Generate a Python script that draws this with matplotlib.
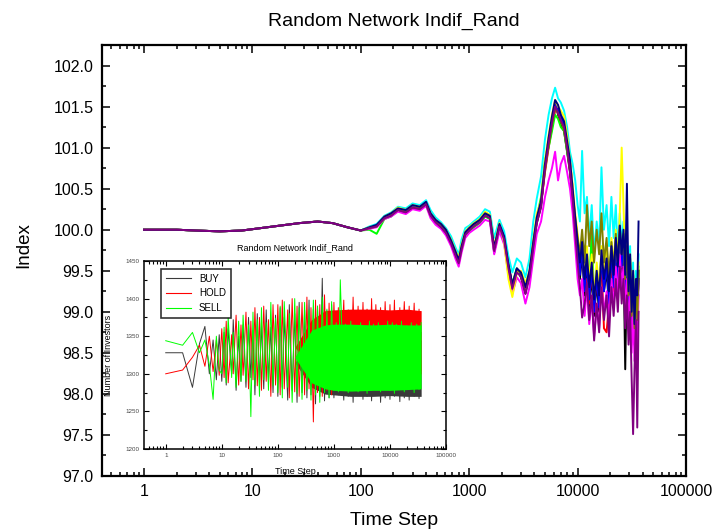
import matplotlib
matplotlib.use("Agg")
import matplotlib.pyplot as plt
from matplotlib.ticker import MultipleLocator, LogLocator, NullFormatter, FormatStrFormatter

plt.rcParams['font.family'] = ['Liberation Sans', 'DejaVu Sans']

# ---------------- main panel: index paths of ten simulation runs ----------------
steps_early = [1, 2, 3, 5, 8, 12, 18, 27, 40, 55, 75, 100]
steps_late = [120, 140, 165, 190, 220, 260, 300, 350, 400, 440, 490, 550, 610, 680, 750, 800, 850, 920, 1000,
              1100, 1250, 1400, 1550, 1700, 1900, 2100, 2300, 2500, 2750, 3000, 3300, 3600, 3900, 4200, 4600,
              5000, 5400, 5800, 6200, 6600, 7000, 7500, 8000, 8500, 9000, 9500, 10000,
              10500, 11000, 11600, 12200, 12800, 13500, 14200, 15000, 15800, 16600, 17500, 18500, 19500,
              20500, 21500, 22500, 23500, 24500, 25500, 26500, 27500, 28500, 29500, 30500, 31500, 32500,
              33500, 34500, 35500, 36500]

# all runs share the same start
index_early = [100.00, 100.00, 99.99, 99.98, 99.99, 100.02, 100.05, 100.08, 100.10, 100.08, 100.03, 99.99]

index_black = [100.03, 100.06, 100.14, 100.19, 100.24, 100.23, 100.27, 100.27, 100.31, 100.17, 100.09, 100.06, 99.97, 99.84, 99.68, 99.60, 99.77, 99.96, 100.01,
               100.04, 100.12, 100.17, 100.14, 99.72, 100.06, 99.88, 99.52, 99.28, 99.52, 99.42, 99.22, 99.47, 99.82, 100.08, 100.28, 100.80, 101.10, 101.35, 101.55, 101.40, 101.30, 101.20, 100.95, 100.70, 100.35, 100.00, 99.70,
               99.40, 99.70, 99.20, 99.55, 99.05, 99.45, 98.95, 99.35, 99.00, 99.60, 99.25, 99.50, 99.05, 99.65, 99.30, 99.75, 99.35, 99.85, 99.40, 99.70, 98.30, 99.60, 98.90, 99.40, 98.70, 99.20, 98.60, 99.10, 98.90, 99.50]
index_red = [100.02, 100.04, 100.16, 100.17, 100.26, 100.21, 100.29, 100.25, 100.33, 100.20, 100.12, 100.04, 99.99, 99.87, 99.72, 99.64, 99.80, 99.94, 99.99,
             100.07, 100.09, 100.20, 100.16, 99.78, 100.03, 99.93, 99.58, 99.33, 99.48, 99.47, 99.28, 99.42, 99.78, 100.12, 100.32, 100.70, 101.00, 101.25, 101.45, 101.50, 101.38, 101.25, 101.00, 100.85, 100.50, 100.05, 99.75,
             99.55, 99.80, 99.35, 99.40, 99.10, 99.55, 99.00, 99.45, 99.20, 99.60, 98.80, 98.75, 99.10, 99.65, 99.25, 99.75, 99.45, 99.90, 99.55, 99.80, 99.35, 99.65, 99.05, 99.50, 98.90, 99.30, 98.75, 99.20, 98.80, 99.40]
index_green = [100.00, 99.95, 100.13, 100.16, 100.23, 100.20, 100.26, 100.24, 100.30, 100.16, 100.08, 100.03, 99.96, 99.83, 99.67, 99.58, 99.76, 99.93, 99.98,
               100.03, 100.08, 100.16, 100.13, 99.73, 100.02, 99.87, 99.53, 99.35, 99.53, 99.44, 99.27, 99.48, 99.85, 100.15, 100.40, 100.85, 101.00, 101.20, 101.40, 101.35, 101.25, 101.20, 100.95, 100.75, 100.40, 100.10, 99.85,
               99.60, 99.85, 99.40, 99.70, 99.30, 100.00, 99.15, 99.50, 99.20, 99.75, 99.40, 99.60, 99.20, 99.75, 99.40, 99.85, 99.50, 100.00, 99.65, 99.90, 99.35, 99.75, 99.15, 99.60, 98.95, 99.45, 98.80, 99.35, 98.95, 99.55]
index_blue = [100.03, 100.05, 100.15, 100.19, 100.25, 100.23, 100.28, 100.27, 100.32, 100.19, 100.11, 100.06, 99.98, 99.86, 99.71, 99.62, 99.79, 99.96, 100.01,
              100.06, 100.11, 100.19, 100.16, 99.76, 100.06, 99.91, 99.56, 99.31, 99.51, 99.46, 99.26, 99.46, 99.81, 100.11, 100.31, 100.78, 101.08, 101.32, 101.52, 101.46, 101.36, 101.28, 101.02, 100.78, 100.42, 100.08, 99.78,
              99.45, 99.80, 99.25, 99.65, 99.15, 99.55, 99.00, 99.45, 99.05, 99.70, 99.25, 99.60, 99.10, 99.75, 99.30, 99.85, 99.40, 100.00, 99.55, 99.90, 99.25, 99.75, 99.05, 99.60, 98.80, 99.40, 98.65, 99.30, 98.80, 99.40]
index_cyan = [100.04, 100.07, 100.17, 100.21, 100.28, 100.26, 100.32, 100.30, 100.36, 100.24, 100.15, 100.09, 100.02, 99.92, 99.78, 99.70, 99.88, 100.02, 100.05,
              100.10, 100.16, 100.25, 100.22, 99.90, 100.12, 99.98, 99.68, 99.48, 99.65, 99.60, 99.42, 99.65, 100.10, 100.38, 100.65, 101.10, 101.40, 101.60, 101.73, 101.60, 101.55, 101.45, 101.25, 100.95, 100.80, 100.60, 100.30,
              100.10, 100.96, 100.20, 100.40, 99.90, 100.30, 99.70, 100.10, 99.80, 100.76, 100.00, 100.30, 99.80, 100.40, 99.90, 100.30, 99.70, 100.20, 99.80, 100.10, 99.50, 99.90, 99.30, 99.80, 99.00, 99.60, 98.90, 99.50, 99.10, 99.70]
index_magenta = [100.01, 100.03, 100.13, 100.16, 100.22, 100.19, 100.25, 100.23, 100.29, 100.14, 100.06, 100.01, 99.93, 99.80, 99.64, 99.55, 99.72, 99.90, 99.96,
                 100.00, 100.05, 100.12, 100.10, 99.70, 99.98, 99.82, 99.45, 99.22, 99.42, 99.35, 99.10, 99.30, 99.65, 99.95, 100.10, 100.40, 100.60, 100.75, 100.95, 100.60, 100.80, 100.90, 100.70, 100.50, 100.20, 99.80, 99.40,
                 99.20, 99.40, 98.95, 99.30, 98.85, 99.15, 98.70, 99.10, 98.80, 99.30, 99.00, 99.25, 98.90, 99.40, 99.05, 99.55, 99.20, 99.70, 99.30, 99.55, 99.00, 99.40, 98.80, 99.20, 98.50, 99.00, 98.40, 99.00, 98.60, 99.20]
index_yellow = [100.03, 100.05, 100.16, 100.20, 100.27, 100.24, 100.30, 100.28, 100.33, 100.20, 100.12, 100.07, 100.00, 99.88, 99.74, 99.66, 99.82, 99.98, 100.03,
                100.08, 100.13, 100.22, 100.18, 99.80, 100.08, 99.85, 99.40, 99.18, 99.48, 99.50, 99.35, 99.50, 99.88, 100.20, 100.35, 100.85, 101.15, 101.40, 101.58, 101.50, 101.45, 101.38, 101.15, 100.85, 100.55, 100.20, 99.95,
                99.70, 99.90, 99.50, 99.80, 99.40, 99.70, 99.20, 99.60, 99.30, 99.80, 99.50, 99.75, 99.35, 99.90, 99.55, 100.00, 99.60, 100.20, 101.00, 100.30, 99.60, 99.90, 99.30, 99.70, 99.00, 99.50, 98.90, 99.40, 99.00, 99.60]
index_olive = [100.02, 100.04, 100.14, 100.18, 100.24, 100.22, 100.27, 100.26, 100.31, 100.18, 100.10, 100.04, 99.97, 99.85, 99.70, 99.61, 99.77, 99.95, 100.00,
               100.05, 100.10, 100.18, 100.15, 99.77, 100.05, 99.90, 99.57, 99.32, 99.52, 99.47, 99.28, 99.47, 99.82, 100.12, 100.32, 100.72, 101.02, 101.28, 101.48, 101.42, 101.32, 101.22, 100.98, 100.72, 100.45, 100.15, 99.90,
               99.70, 100.00, 99.60, 100.30, 99.80, 100.10, 99.60, 100.00, 99.70, 100.20, 99.60, 99.90, 99.40, 99.85, 99.50, 99.95, 99.60, 100.05, 99.70, 99.95, 99.40, 99.80, 99.20, 99.65, 98.95, 99.45, 98.80, 99.30, 98.90, 99.50]
index_navy = [100.03, 100.06, 100.16, 100.20, 100.26, 100.24, 100.30, 100.28, 100.34, 100.20, 100.12, 100.07, 100.00, 99.87, 99.73, 99.63, 99.80, 99.97, 100.02,
              100.07, 100.12, 100.20, 100.17, 99.78, 100.07, 99.92, 99.58, 99.33, 99.53, 99.48, 99.30, 99.50, 99.85, 100.15, 100.35, 100.80, 101.12, 101.38, 101.58, 101.52, 101.40, 101.32, 101.08, 100.85, 100.50, 100.15, 99.85,
              99.60, 99.85, 99.40, 99.70, 99.30, 99.60, 99.15, 99.50, 99.20, 99.75, 99.40, 99.65, 99.25, 99.80, 99.45, 99.90, 99.55, 100.05, 99.70, 100.00, 99.45, 100.56, 99.25, 99.70, 99.00, 99.50, 98.85, 99.40, 99.20, 100.10]
index_purple = [100.02, 100.04, 100.14, 100.17, 100.24, 100.21, 100.27, 100.25, 100.31, 100.17, 100.09, 100.03, 99.96, 99.83, 99.68, 99.59, 99.76, 99.94, 99.99,
                100.04, 100.09, 100.17, 100.14, 99.74, 100.04, 99.88, 99.53, 99.28, 99.48, 99.43, 99.22, 99.42, 99.78, 100.08, 100.28, 100.74, 101.05, 101.30, 101.50, 101.42, 101.33, 101.25, 101.00, 100.72, 100.38, 99.95, 99.60,
                99.30, 98.93, 99.10, 99.35, 98.90, 99.20, 98.65, 99.10, 98.75, 99.30, 98.90, 99.20, 98.70, 99.30, 98.95, 99.40, 99.00, 99.55, 99.10, 99.40, 98.80, 99.20, 98.60, 99.00, 98.20, 97.51, 98.30, 98.90, 97.59, 99.00]

run_colors = ['#000000', '#FF0000', '#00FF00', '#0000FF', '#00FFFF', '#FF00FF',
              '#FFFF00', '#808000', '#000080', '#800080']
run_values = [index_black, index_red, index_green, index_blue, index_cyan, index_magenta,
              index_yellow, index_olive, index_navy, index_purple]

x_ticks = [1, 10, 100, 1000, 10000, 100000]
x_tick_labels = ['1', '10', '100', '1000', '10000', '100000']

# ---------------- inset: investor counts by decision ----------------
inset_steps_early = [1, 2, 3, 4, 5, 6, 7, 8, 9]
e24 = [1.0, 1.1, 1.2, 1.3, 1.5, 1.6, 1.8, 2.0, 2.2, 2.4, 2.7, 3.0, 3.3, 3.6, 3.9, 4.3, 4.7, 5.1,
       5.6, 6.2, 6.8, 7.5, 8.2, 9.1]
inset_steps = inset_steps_early + [round(m * 10 ** k) for k in (1, 2, 3) for m in e24] + \
    [round(m * 10 ** 4) for m in e24[:14]]

buy_counts = [1328, 1328, 1282, 1340, 1363, 1300, 1345, 1292, 1352,
              1290, 1355, 1285, 1360, 1300, 1372, 1278, 1350, 1290, 1365, 1282, 1375, 1295, 1358, 1272, 1380, 1288, 1368, 1280, 1385, 1292, 1362, 1275, 1378,
              1270, 1388, 1282, 1375, 1265, 1392, 1278, 1380, 1262, 1395, 1275, 1385, 1268, 1398, 1272, 1386, 1260, 1390, 1270, 1427, 1264, 1384, 1268, 1392,
              1268, 1355, 1272, 1348, 1265, 1360, 1270, 1352, 1262, 1358, 1275, 1345, 1266, 1362, 1270, 1350, 1264, 1356, 1272, 1348, 1262, 1360, 1268, 1352,
              1266, 1350, 1270, 1356, 1263, 1348, 1268, 1358, 1265, 1352, 1270, 1346, 1267, 1355]
hold_counts = [1300, 1305, 1322, 1338, 1310, 1350, 1303, 1345, 1298,
               1360, 1295, 1370, 1288, 1352, 1300, 1378, 1285, 1365, 1298, 1382, 1280, 1370, 1292, 1388, 1284, 1375, 1278, 1390, 1290, 1372, 1270, 1392, 1285,
               1392, 1272, 1398, 1280, 1385, 1268, 1400, 1276, 1390, 1270, 1395, 1272, 1402, 1280, 1388, 1236, 1398, 1275, 1392, 1270, 1405, 1278, 1394, 1272,
               1395, 1302, 1388, 1295, 1398, 1305, 1385, 1298, 1402, 1300, 1390, 1296, 1395, 1308, 1386, 1294, 1400, 1302, 1392, 1298, 1388, 1305, 1396, 1300,
               1392, 1300, 1398, 1296, 1388, 1304, 1396, 1298, 1390, 1302, 1394, 1296, 1386, 1300]
sell_counts = [1344, 1338, 1355, 1328, 1345, 1312, 1266, 1350, 1305,
               1300, 1362, 1288, 1375, 1295, 1355, 1282, 1370, 1290, 1378, 1290, 1365, 1243, 1382, 1285, 1372, 1270, 1388, 1292, 1368, 1278, 1395, 1284, 1374,
               1275, 1390, 1268, 1396, 1282, 1380, 1262, 1400, 1274, 1388, 1266, 1395, 1278, 1385, 1265, 1398, 1272, 1390, 1262, 1402, 1275, 1386, 1268, 1396,
               1278, 1368, 1276, 1425, 1280, 1366, 1275, 1370, 1282, 1364, 1276, 1368, 1280, 1362, 1274, 1370, 1278, 1366, 1282, 1368, 1276, 1364, 1280, 1370,
               1278, 1368, 1274, 1366, 1280, 1370, 1276, 1364, 1282, 1368, 1275, 1366, 1279, 1368]

# range covered by the fast fluctuations once they become dense
band_steps = [200, 400, 700, 1000, 2000, 5000, 10000, 20000, 36000]
buy_band_lo = [1315, 1282, 1273, 1272, 1270, 1270, 1271, 1270, 1270]
buy_band_hi = [1315, 1340, 1345, 1345, 1345, 1345, 1345, 1345, 1345]
hold_band_lo = [1335, 1310, 1305, 1305, 1305, 1305, 1305, 1305, 1305]
hold_band_hi = [1335, 1372, 1384, 1385, 1386, 1386, 1385, 1386, 1384]
sell_band_lo = [1322, 1288, 1280, 1278, 1277, 1278, 1278, 1279, 1280]
sell_band_hi = [1322, 1358, 1365, 1366, 1366, 1365, 1366, 1365, 1365]

decision_labels = ['BUY', 'HOLD', 'SELL']
decision_colors = ['#3a3a3a', '#FF0000', '#00FF00']
decision_counts = [buy_counts, hold_counts, sell_counts]
decision_bands = [(buy_band_lo, buy_band_hi), (hold_band_lo, hold_band_hi), (sell_band_lo, sell_band_hi)]


def style_axes(ax, spine_w, major_len, minor_len, tick_w):
    for sp in ax.spines.values():
        sp.set_linewidth(spine_w)
    ax.tick_params(which='both', direction='in', top=True, right=True, width=tick_w)
    ax.tick_params(which='major', length=major_len)
    ax.tick_params(which='minor', length=minor_len)


fig = plt.figure(figsize=(7.14, 5.32), dpi=100)

ax = fig.add_axes([0.1429, 0.1053, 0.8179, 0.8101])
steps_all = steps_early + steps_late
for vals, col in zip(run_values, run_colors):
    ax.plot(steps_all, index_early + vals, color=col, lw=1.4)

ax.set_xscale('log')
ax.set_xlim(0.41, 1e5)
ax.set_ylim(97.0, 102.25)
ax.set_xticks(x_ticks)
ax.set_xticklabels(x_tick_labels)
ax.xaxis.set_minor_locator(LogLocator(base=10, subs=range(2, 10), numticks=20))
ax.xaxis.set_minor_formatter(NullFormatter())
ax.yaxis.set_major_locator(MultipleLocator(0.5))
ax.yaxis.set_minor_locator(MultipleLocator(0.25))
ax.yaxis.set_major_formatter(FormatStrFormatter('%.1f'))
style_axes(ax, 1.6, 6, 3, 1.1)
ax.tick_params(which='major', labelsize=11.5, pad=6)
ax.set_title('Random Network Indif_Rand', fontsize=14, pad=14)
ax.set_xlabel('Time Step', fontsize=14, labelpad=9)
ax.set_ylabel('Index', fontsize=13.5)
ax.yaxis.set_label_coords(-0.12, 0.535)

ins = fig.add_axes([0.2017, 0.156, 0.423, 0.3534])
layer = 2
for vals, col, lab, (lo, hi) in zip(decision_counts, decision_colors, decision_labels, decision_bands):
    ins.fill_between(band_steps, lo, hi, color=col, lw=0, zorder=layer)
    ins.plot(inset_steps, vals, color=col, lw=0.7, label=lab, zorder=layer + 1)
    layer += 2
ins.set_xscale('log')
ins.set_xlim(0.41, 1e5)
ins.set_ylim(1200, 1450)
ins.set_xticks(x_ticks)
ins.set_xticklabels(x_tick_labels)
ins.xaxis.set_minor_locator(LogLocator(base=10, subs=range(2, 10), numticks=20))
ins.xaxis.set_minor_formatter(NullFormatter())
ins.yaxis.set_major_locator(MultipleLocator(50))
ins.yaxis.set_minor_locator(MultipleLocator(25))
style_axes(ins, 1.1, 3.5, 2, 0.8)
ins.tick_params(which='major', labelsize=4.5, pad=3, labelcolor='#444444')
ins.set_title('Random Network Indif_Rand', fontsize=6.5, pad=8)
ins.set_xlabel('Time Step', fontsize=6.5, labelpad=6)
ins.set_ylabel('Number of Investors', fontsize=6.5, labelpad=9)
leg = ins.legend(loc='upper left', bbox_to_anchor=(0.04, 0.985), fontsize=7,
                 frameon=True, fancybox=False, handlelength=2.6, borderpad=0.5,
                 labelspacing=0.5, handletextpad=0.8)
leg.set_zorder(20)
leg.get_frame().set_edgecolor('black')
leg.get_frame().set_linewidth(1.2)
for h in leg.get_lines():
    h.set_linewidth(0.8)

fig.savefig('out.png', dpi=100)
